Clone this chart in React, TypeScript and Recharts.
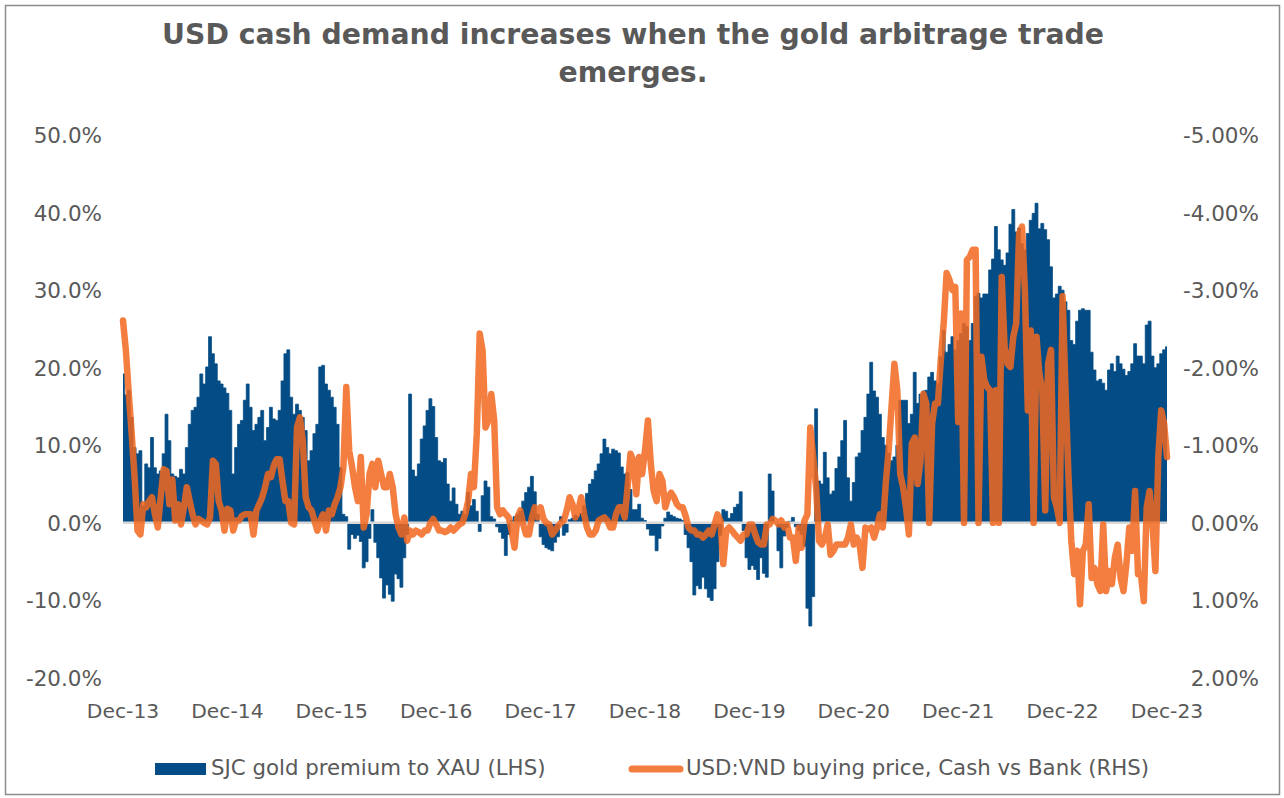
import { ComposedChart, Area, Line, XAxis, YAxis, ReferenceLine } from 'recharts'

const FONT = "'DejaVu Sans', Verdana, sans-serif"
const TEXT = '#595959'
const BLUE = '#044C85'
const ORANGE = '#F2691F'

const yearLabels = ['Dec-13', 'Dec-14', 'Dec-15', 'Dec-16', 'Dec-17', 'Dec-18', 'Dec-19', 'Dec-20', 'Dec-21', 'Dec-22', 'Dec-23']
const pointsPerYear = 36
const leftTicks = [-20, -10, 0, 10, 20, 30, 40, 50]
const rightTicks = [-5, -4, -3, -2, -1, 0, 1, 2]

// SJC gold premium to XAU, %, three readings per month from Dec-13
const sjcPremium = [
  19.2, 16.5, 17.1, 13.6, 9.7, 8.9, 9.3, 2.2, 7.6, 7.1, 11.0, 7.1, 6.3, 6.7, 8.9, 14.0, 10.6, 6.3, 6.0, 5.8, 6.9, 6.3, 9.7, 12.7, 14.5, 14.9, 16.2, 19.2, 17.9, 20.1, 24.0, 21.8, 20.5, 18.3, 17.9, 17.4,
  16.7, 14.5, 6.3, 9.7, 12.7, 13.2, 15.8, 17.9, 14.9, 11.9, 12.7, 13.6, 14.5, 10.6, 12.3, 14.9, 13.4, 13.2, 14.5, 18.3, 21.8, 22.3, 16.2, 14.0, 15.3, 14.5, 13.6, 11.9, 8.0, 9.3, 11.5, 12.7, 20.1, 20.3, 17.9, 17.1,
  16.2, 14.9, 12.7, 7.1, 1.1, 0.8, -3.4, -1.5, -2.0, -1.6, -2.4, -5.8, -5.0, -2.0, 1.7, -2.5, -4.5, -7.1, -9.7, -8.0, -9.2, -10.1, -6.6, -7.2, -8.3, -4.5, -1.5, 16.6, 6.8, 6.0, 7.6, 10.8, 12.5, 14.5, 16.0, 15.0,
  11.0, 8.0, 7.8, 8.3, 5.0, 2.8, 4.5, 2.4, 1.1, 1.5, 1.1, 3.9, 2.2, 3.0, 1.5, -1.1, 3.5, 5.4, 4.6, 0.8, 0.5, -0.5, -1.2, -2.0, -4.2, -1.5, 0.3, 0.8, 1.1, 1.5, 2.8, 3.9, 4.6, 6.0, 4.0, 1.1,
  -1.8, -2.8, -3.2, -3.4, -3.6, -2.5, -1.8, 0.8, -1.6, -1.2, 0.4, 0.6, 1.0, 0.8, 1.2, 2.2, 3.8, 5.0, 5.6, 6.7, 7.6, 8.9, 10.8, 9.7, 8.9, 9.5, 9.3, 9.0, 7.2, 6.3, 6.5, 4.3, 1.7, 1.7, 2.4, 0.6,
  0.3, -0.8, -1.6, -1.6, -3.6, -2.0, -0.4, 0.6, 1.4, 1.0, 0.8, 0.6, 0.5, 0.3, -1.5, -3.2, -5.0, -9.3, -8.1, -8.5, -7.0, -8.5, -9.6, -10.0, -8.5, -5.0, -1.6, 1.7, 1.5, 0.6, 1.2, 2.0, 2.4, 4.0, -1.0, -4.5,
  -6.0, -5.5, -6.0, -7.3, -4.5, -6.5, -7.0, 6.3, 4.1, 0.0, -3.6, -5.8, -1.7, -0.6, 0.2, 0.7, -0.5, -1.0, -1.5, -3.0, -11.0, -13.3, -9.5, 14.7, 5.4, 5.0, 9.1, 5.8, 3.7, 4.1, 7.0, 8.5, 10.6, 13.2, 5.8, 2.8,
  5.2, 8.5, 9.0, 11.9, 13.6, 16.6, 20.7, 17.0, 16.2, 14.0, 11.0, 10.0, 9.0, 8.0, 8.5, 10.0, 15.8, 15.8, 15.8, 12.8, 14.0, 19.4, 15.4, 16.6, 17.0, 17.1, 18.8, 19.4, 18.3, 18.0, 21.4, 24.8, 22.0, 23.0, 24.0, 22.3,
  23.5, 24.4, 25.7, 25.3, 23.5, 25.7, 29.2, 29.6, 29.0, 29.5, 29.5, 32.6, 34.0, 38.2, 35.2, 33.9, 33.2, 34.8, 38.5, 40.4, 37.5, 38.0, 36.0, 35.2, 37.3, 39.0, 39.9, 41.2, 37.9, 38.6, 37.8, 36.5, 33.0, 29.0, 29.5, 30.5,
  30.0, 28.5, 27.4, 23.5, 23.0, 26.0, 27.4, 27.6, 27.4, 27.4, 22.0, 19.7, 18.3, 18.5, 18.0, 17.1, 19.7, 20.5, 19.5, 21.5, 20.5, 19.8, 19.0, 19.5, 20.5, 23.1, 21.5, 21.5, 20.5, 25.5, 26.0, 21.5, 20.0, 20.5, 21.8, 22.3,
  22.7,
]

// USD:VND buying price, cash vs bank, % (right axis, reversed)
const cashVsBank = [
  -2.61, -2.22, -1.66, -1.15, -0.59, 0.10, 0.15, -0.24, -0.20, -0.28, -0.33, -0.11, 0.06, -0.33, -0.69, -0.67, -0.24, -0.56, -0.03, -0.24, 0.02, -0.20, -0.46, -0.28, -0.11, 0.02, -0.05, -0.03, 0.0, 0.02, -0.07, -0.80, -0.76, -0.28, -0.16, 0.10,
  -0.18, -0.16, 0.10, -0.03, -0.03, -0.09, -0.11, -0.11, -0.11, 0.15, -0.16, -0.24, -0.33, -0.46, -0.63, -0.59, -0.74, -0.82, -0.82, -0.54, -0.28, -0.28, 0.0, 0.02, -1.23, -1.36, -1.06, -0.33, -0.20, -0.16, -0.03, 0.10, -0.03, -0.11, 0.10, -0.16,
  -0.11, -0.24, -0.33, -0.46, -0.72, -1.75, -0.93, -0.72, -0.46, -0.28, -0.85, 0.06, -0.11, -0.63, -0.76, -0.46, -0.80, -0.63, -0.46, -0.46, -0.63, -0.46, -0.11, 0.06, 0.15, -0.07, 0.23, 0.10, 0.15, 0.10, 0.12, 0.15, 0.10, 0.10, 0.0, -0.05,
  0.02, 0.10, 0.10, 0.12, 0.10, 0.06, 0.10, 0.06, 0.02, 0.0, -0.11, -0.28, -0.63, -0.46, -1.15, -2.44, -2.22, -1.23, -1.32, -1.66, -1.32, -0.20, -0.11, -0.16, -0.11, -0.07, 0.10, 0.32, -0.07, -0.16, 0.02, 0.15, 0.15, -0.07, -0.20, -0.07,
  -0.20, -0.05, 0.0, 0.02, 0.15, 0.10, 0.04, 0.0, -0.03, -0.16, -0.33, -0.24, -0.07, -0.16, -0.33, -0.11, 0.06, 0.15, 0.15, 0.10, -0.03, -0.05, -0.07, -0.03, 0.06, 0.06, -0.11, -0.20, -0.20, -0.07, -0.46, -0.89, -0.80, -0.37, -0.85, -0.63,
  -0.93, -1.32, -0.76, -0.41, -0.28, -0.63, -0.54, -0.20, -0.33, -0.39, -0.33, -0.24, -0.20, -0.20, -0.09, 0.06, 0.10, 0.10, 0.15, 0.15, 0.19, 0.15, 0.10, 0.15, 0.02, -0.11, -0.03, 0.53, 0.10, 0.06, 0.10, 0.15, 0.19, 0.23, 0.15, 0.15,
  0.02, 0.02, 0.15, 0.25, 0.28, 0.28, 0.02, 0.02, -0.05, -0.03, 0.02, -0.03, 0.06, 0.02, 0.19, 0.19, 0.49, 0.06, 0.32, -0.03, -0.11, -1.23, -0.85, -0.46, 0.23, 0.28, 0.19, 0.02, 0.41, 0.36, 0.28, 0.28, 0.28, 0.28, 0.19, 0.02,
  0.28, 0.19, 0.28, 0.58, 0.06, 0.08, 0.06, 0.19, 0.06, -0.11, 0.06, -0.50, -0.93, -1.49, -2.05, -1.71, -0.63, -0.46, -0.20, 0.15, -1.02, -1.10, -0.50, -0.80, -1.66, -1.54, 0.0, -1.28, -1.54, -1.54, -2.10, -2.57, -3.22, -3.13, -3.0, -3.04,
  -1.3, -2.7, 0.0, -3.39, -3.43, -3.52, -3.52, 0.0, -2.14, -1.84, -1.75, -1.71, 0.0, -1.71, 0.0, -3.17, -2.27, -2.05, -2.01, -2.40, -2.57, -3.73, -3.82, -3.0, -1.45, -2.48, 0.0, -2.40, -1.92, -1.71, -0.16, -2.05, -2.23, -0.33, -0.20, 0.0,
  -2.92, -1.71, -0.63, 0.23, 0.66, 0.36, 1.05, 0.36, 0.28, -0.24, 0.71, 0.58, 0.79, 0.88, 0.02, 0.88, 0.62, 0.79, 0.45, 0.28, 0.71, 0.88, 0.53, 0.06, 0.36, -0.41, 0.66, 0.66, 1.01, -0.20, -0.41, 0.02, 0.62, -0.85, -1.45, -1.28,
  -0.85,
]

const data = sjcPremium.map((premium, i) => ({ i, premium, cash: cashVsBank[i] }))

const textStyle = { fill: TEXT, fontFamily: FONT }

function LeftTick({ y, payload }: any) {
  return (
    <text x={102} y={y + 8} textAnchor="end" fontSize={21.5} {...textStyle}>
      {Number(payload.value).toFixed(1)}%
    </text>
  )
}

function RightTick({ y, payload }: any) {
  return (
    <text x={1259} y={y + 8} textAnchor="end" fontSize={21.5} {...textStyle}>
      {Number(payload.value).toFixed(2)}%
    </text>
  )
}

function DateTick({ x, payload }: any) {
  return (
    <text x={x} y={718} textAnchor="middle" fontSize={20.3} {...textStyle}>
      {yearLabels[Math.round(Number(payload.value) / pointsPerYear)]}
    </text>
  )
}

export default function App() {
  return (
    <div style={{ position: 'absolute', left: 0, top: 0, width: 1284, height: 798, background: '#fff' }}>
      <div style={{ position: 'absolute', left: 0, top: 0 }}>
        <ComposedChart
          width={1284}
          height={798}
          data={data}
          margin={{ top: 135, right: 57, bottom: 80, left: 63 }}
        >
          <XAxis
            dataKey="i"
            interval={pointsPerYear - 1}
            height={40}
            axisLine={false}
            tickLine={false}
            tick={DateTick}
          />
          <YAxis
            yAxisId="left"
            domain={[-20, 50]}
            ticks={leftTicks}
            width={60}
            axisLine={false}
            tickLine={false}
            tick={LeftTick}
          />
          <YAxis
            yAxisId="right"
            orientation="right"
            domain={[-5, 2]}
            ticks={rightTicks}
            reversed
            width={60}
            axisLine={false}
            tickLine={false}
            tick={RightTick}
          />
          <ReferenceLine yAxisId="left" y={0} stroke="#d9d9d9" strokeWidth={2.5} />
          {/* the premium columns sit edge to edge, so a stepped fill draws them without seams */}
          <Area
            yAxisId="left"
            dataKey="premium"
            type="step"
            baseValue={0}
            fill={BLUE}
            fillOpacity={1}
            stroke={BLUE}
            strokeWidth={0.8}
            dot={false}
            activeDot={false}
            isAnimationActive={false}
          />
          <Line
            yAxisId="right"
            dataKey="cash"
            type="linear"
            stroke={ORANGE}
            strokeOpacity={0.86}
            strokeWidth={6.5}
            strokeLinejoin="round"
            strokeLinecap="round"
            dot={false}
            activeDot={false}
            isAnimationActive={false}
          />
        </ComposedChart>
      </div>
      <svg
        width={1284}
        height={798}
        style={{ position: 'absolute', left: 0, top: 0, pointerEvents: 'none' }}
      >
        <rect x={5.5} y={5.5} width={1274} height={789} fill="none" stroke="#8c8c8c" strokeWidth={1.5} />
        <text x={633} y={44} textAnchor="middle" fontSize={28.3} fontWeight="bold" {...textStyle}>
          USD cash demand increases when the gold arbitrage trade
        </text>
        <text x={633} y={82} textAnchor="middle" fontSize={28.3} fontWeight="bold" {...textStyle}>
          emerges.
        </text>
        <rect x={155} y={763} width={51} height={12} fill={BLUE} />
        <text x={211} y={775} fontSize={21.3} {...textStyle}>
          SJC gold premium to XAU (LHS)
        </text>
        <line x1={632} y1={769} x2={680} y2={769} stroke={ORANGE} strokeOpacity={0.86} strokeWidth={7} strokeLinecap="round" />
        <text x={686} y={775} fontSize={21.3} {...textStyle}>
          USD:VND buying price, Cash vs Bank (RHS)
        </text>
      </svg>
    </div>
  )
}
